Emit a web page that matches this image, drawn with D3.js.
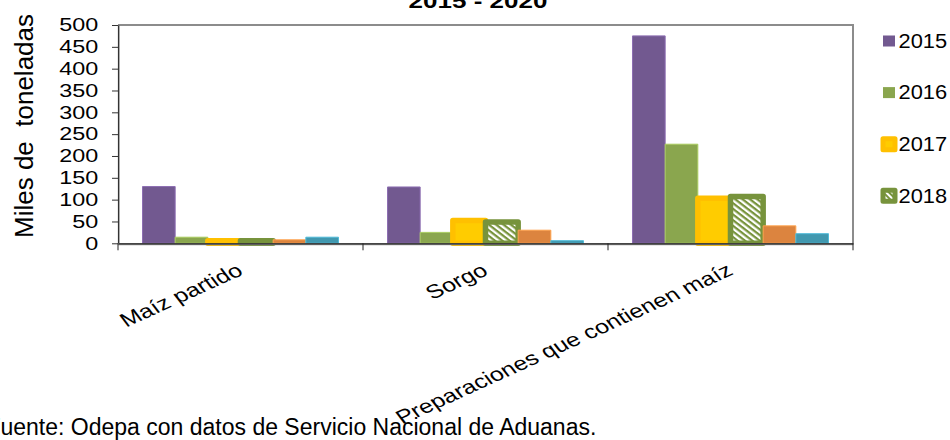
<!DOCTYPE html>
<html>
<head>
<meta charset="utf-8">
<script src="https://cdn.jsdelivr.net/npm/d3@7"></script>
<style>
  html, body { margin: 0; padding: 0; background: #fff; overflow: hidden; }
  svg { display: block; font-family: "Liberation Sans", Arial, sans-serif; }
</style>
</head>
<body>
<svg id="chart" width="950" height="440"></svg>
<script>
// ---- data ----
const title = "2015 - 2020";
const yTitle = "Miles de  toneladas";
const source = "Fuente: Odepa con datos de Servicio Nacional de Aduanas.";
const categories = ["Maíz partido", "Sorgo", "Preparaciones que contienen maíz"];
const years = ["2015", "2016", "2017", "2018", "2019", "2020"];
const v2015 = [130, 129, 475];
const v2016 = [14, 25, 227];
const v2017 = [6, 52, 103];
const v2018 = [6, 49, 107];
const v2019 = [8, 30, 40];
const v2020 = [14, 6, 22];
const yTicks = [0, 50, 100, 150, 200, 250, 300, 350, 400, 450, 500];

const seriesValues = [v2015, v2016, v2017, v2018, v2019, v2020];
const colors = ["#725990", "#8aa64e", "#ffcc00", "#77933c", "#dc843f", "#4198af"];

// ---- layout (chart is horizontally stretched as in the reference) ----
const SX = 1.3;
const svg = d3.select("#chart");
const defs = svg.append("defs");

const pat = defs.append("pattern")
  .attr("id", "hatch")
  .attr("patternUnits", "userSpaceOnUse")
  .attr("width", 4).attr("height", 4)
  .attr("patternTransform", "rotate(-45)");
pat.append("rect").attr("width", 4).attr("height", 4).attr("fill", "#77933c");
pat.append("rect").attr("width", 2).attr("height", 4).attr("fill", "#ffffff");

defs.append("clipPath").attr("id", "legendClip")
  .append("rect").attr("x", 860).attr("y", 0).attr("width", 90).attr("height", 222);

const g = svg.append("g").attr("transform", `scale(${SX},1)`);

const plotL = 118 / SX, plotR = 853 / SX, plotT = 25, plotB = 243.3;

const x0 = d3.scaleBand().domain(categories).range([plotL, plotR]).padding(0);
const x1 = d3.scaleBand().domain(years).range([0, x0.bandwidth()]).paddingInner(0).paddingOuter(0.75);
const y = d3.scaleLinear().domain([0, 500]).range([plotB, plotT]);

// plot frame (top & right)
g.append("path")
  .attr("d", `M${plotL},${plotT}H${plotR}V${plotB}`)
  .attr("fill", "none").attr("stroke", "#8c8c8c").attr("stroke-width", 2)
  .attr("vector-effect", "non-scaling-stroke");

// bars
function fillFor(i) { return i === 3 ? "url(#hatch)" : colors[i]; }
function strokeFor(i) {
  if (i === 2) return "#ffc000";
  if (i === 3) return "#77933c";
  return d3.color(colors[i]).brighter(0.6).formatHex();
}
function strokeW(i) { return (i === 2 || i === 3) ? 5.5 : 1; }

const barData = [];
categories.forEach((c, ci) => {
  years.forEach((yr, si) => {
    barData.push({ cat: c, year: yr, si: si, value: seriesValues[si][ci] });
  });
});

g.append("g").selectAll("rect").data(barData).join("rect")
  .attr("x", d => x0(d.cat) + x1(d.year))
  .attr("y", d => y(d.value))
  .attr("width", x1.bandwidth())
  .attr("height", d => y(0) - y(d.value))
  .attr("fill", d => fillFor(d.si))
  .attr("stroke", d => strokeFor(d.si))
  .attr("stroke-width", d => strokeW(d.si))
  .attr("stroke-linejoin", "round")
  .attr("vector-effect", "non-scaling-stroke");

// y axis
const yAxis = d3.axisLeft(y).tickValues(yTicks).tickSize(6 / SX).tickPadding(10.5).tickSizeOuter(0);
const ya = g.append("g").attr("transform", `translate(${plotL},0)`).call(yAxis);
ya.select(".domain").attr("stroke", "#333").attr("stroke-width", 1.5).attr("vector-effect", "non-scaling-stroke");
ya.selectAll(".tick line").attr("stroke", "#333").attr("vector-effect", "non-scaling-stroke");
ya.selectAll(".tick text").attr("font-size", 18).attr("fill", "#000")
  .attr("font-family", "'Liberation Sans', Arial, sans-serif");

// x axis
g.append("line").attr("x1", plotL).attr("x2", plotR).attr("y1", plotB + 1).attr("y2", plotB + 1)
  .attr("stroke", "#999").attr("stroke-width", 2).attr("vector-effect", "non-scaling-stroke");
const xAxis = d3.axisBottom(x0).tickSize(0).tickFormat("");
const xa = g.append("g").attr("transform", `translate(0,${plotB})`).call(xAxis);
xa.select(".domain").attr("stroke", "#222").attr("stroke-width", 1.2).attr("vector-effect", "non-scaling-stroke");
const bounds = categories.map(c => x0(c)).concat([plotR]);
xa.selectAll(".bnd").data(bounds).join("line")
  .attr("x1", d => d).attr("x2", d => d).attr("y1", 0).attr("y2", 7)
  .attr("stroke", "#222").attr("vector-effect", "non-scaling-stroke");

// category labels
g.append("g").selectAll("text").data(categories).join("text")
  .attr("transform", c => `translate(${x0(c) + x0.bandwidth() / 2 + 3},${274}) rotate(-30.5)`)
  .attr("text-anchor", "end")
  .attr("font-size", 19.2)
  .attr("fill", "#000")
  .text(c => c);

// title (cut at top)
g.append("text")
  .attr("x", 478 / SX).attr("y", 8)
  .attr("text-anchor", "middle")
  .attr("font-size", 20).attr("font-weight", "bold")
  .attr("fill", "#000")
  .text(title);

// y title (not stretched)
svg.append("text")
  .attr("transform", `translate(33,126) rotate(-90)`)
  .attr("text-anchor", "middle")
  .attr("font-size", 26)
  .style("white-space", "pre")
  .attr("fill", "#000")
  .text(yTitle);

// legend (only first entries fit in the visible area)
const lg = svg.append("g").attr("clip-path", "url(#legendClip)");
const legendItems = lg.selectAll("g").data(years).join("g")
  .attr("transform", (d, i) => `translate(0,${41 + i * 51.6})`);
legendItems.append("rect")
  .attr("x", 883).attr("y", -5.5)
  .attr("width", 12).attr("height", 11)
  .attr("fill", (d, i) => fillFor(i))
  .attr("stroke", (d, i) => (i === 2 || i === 3) ? strokeFor(i) : "none")
  .attr("stroke-width", (d, i) => (i === 2 || i === 3) ? 5 : 0)
  .attr("stroke-linejoin", "round");
legendItems.append("text")
  .attr("transform", "translate(898.5,0) scale(1.12,1)")
  .attr("dy", "0.35em")
  .attr("font-size", 19.5)
  .attr("fill", "#000")
  .text(d => d);

// source (not stretched, first letter cut at left edge)
const src = svg.append("text")
  .attr("y", 435)
  .attr("font-size", 23)
  .attr("fill", "#000")
  .text(source);
const fw = src.node().getSubStringLength(0, 1);
src.attr("x", 0.5 - fw);
</script>
</body>
</html>
